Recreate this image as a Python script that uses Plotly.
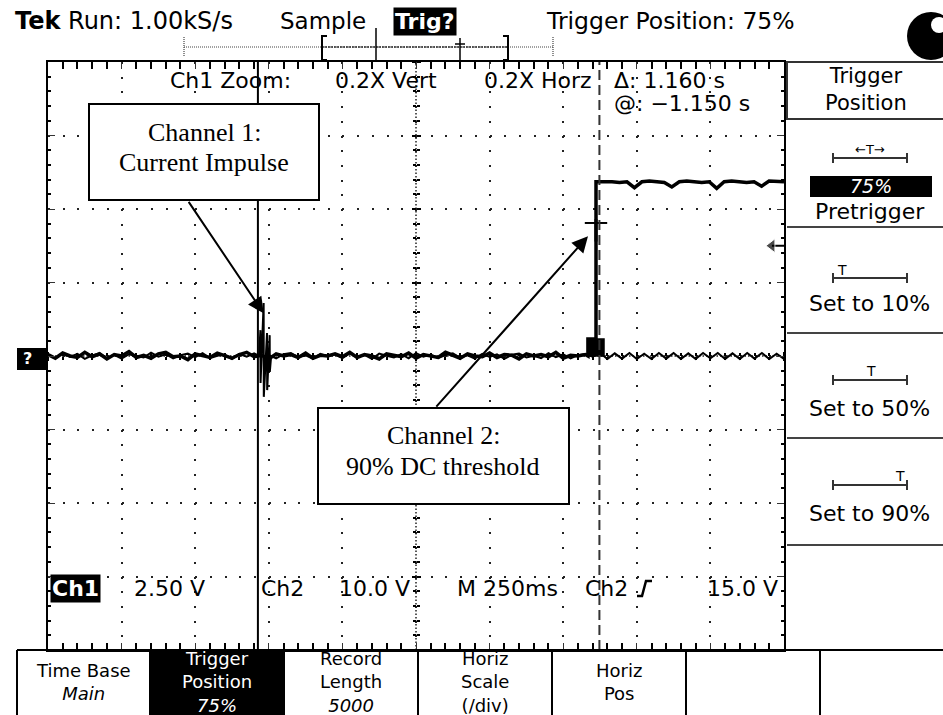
import numpy as np
import plotly.graph_objects as go

time_range = [-1.875, 0.625]      # s  (M 250ms/div, trigger position 75 %)
ch2_range = [-40.0, 40.0]         # V  (Ch2 10.0 V/div)
ch1_range = [-10.0, 10.0]         # V  (Ch1 2.50 V/div)
time_div = 0.25
ch2_div = 10.0
ch1_div = 2.5

cursor_t = [-1.162, -0.002]       # cursor 1 (solid), cursor 2 (dashed): delta 1.160 s
trigger_level = 15.0              # V on Ch2
trigger_point_v = 18.1            # V, trigger "+" mark on the Ch2 edge

# Ch1 (current impulse) baseline noise, one sample every 25 ms over the record
ch1_noise = [
    0.05, -0.08, 0.10, -0.03, 0.07, -0.10, 0.02, 0.09, -0.06, 0.04,
    -0.09, 0.06, 0.00, -0.05, 0.11, -0.02, 0.06, -0.08, 0.03, 0.08,
    -0.04, 0.10, -0.07, 0.01, 0.05, -0.10, 0.07, -0.02, 0.09, -0.06,
    0.03, -0.08, 0.06, 0.10, -0.04, 0.02, -0.09, 0.07, -0.01, 0.05,
    -0.07, 0.09, -0.03, 0.04, -0.10, 0.08, 0.01, -0.05, 0.06, -0.08,
    0.10, -0.02, 0.05, -0.07, 0.03, 0.09, -0.06, 0.02, -0.09, 0.07,
    -0.03, 0.06, -0.10, 0.04, 0.08, -0.05, 0.01, -0.07, 0.10, -0.04,
    0.06, -0.08, 0.03, 0.07, -0.02,
    0.10, -0.10, 0.09, -0.09, 0.10, -0.10, 0.08, -0.10, 0.10, -0.09,
    0.10, -0.10, 0.09, -0.10, 0.10, -0.08, 0.10, -0.10, 0.09, -0.10,
    0.10, -0.09, 0.10, -0.10, 0.08, -0.10,
]
# Ch1 impulse (ringing) samples
ch1_imp_t = [-1.158, -1.1535, -1.153, -1.1425, -1.142, -1.131, -1.1305, -1.122, -1.1215, -1.117]
ch1_imp_v = [0.0, 0.88, -0.92, 1.80, -1.39, 0.78, -1.16, 0.71, -0.54, 0.0]

# Ch2 (90 % DC threshold) low level before the edge, one sample every 25 ms
ch2_low = [
    0.2, -0.3, 0.4, 0.0, -0.2, 0.5, -0.1, 0.3, -0.4, 0.2,
    0.0, 0.6, -0.2, 0.1, -0.3, 0.3, 0.5, -0.1, 0.0, -0.5,
    0.3, 0.1, -0.2, 0.4, 0.0, -0.3, 0.2, 0.5, -0.1, 0.1,
    -0.4, 0.3, 0.0, 0.2, -0.2, 0.4, -0.3, 0.1, 0.0, 0.3,
    -0.1, 0.5, -0.2, 0.2, 0.0, -0.4, 0.3, 0.1, -0.1, 0.4,
    -0.3, 0.2, 0.0, -0.2, 0.5, 0.1, -0.3, 0.3, 0.0, -0.1,
    0.4, -0.2, 0.2, 0.1, -0.4, 0.3, 0.0, 0.2, -0.1, 0.5,
    -0.3, 0.1, 0.0, 0.2,
]
ch2_burst_t = [-0.041, 0.0136]    # short burst just before the edge
ch2_burst_v = 2.3
ch2_edge_t = -0.0136
ch2_high = [
    23.7, 23.8, 23.7, 23.6, 23.7, 22.9, 23.7, 23.8, 23.7, 23.6,
    23.0, 23.7, 23.8, 23.7, 23.6, 23.7, 22.8, 23.7, 23.8, 23.7,
    23.6, 23.7, 23.1, 23.8, 23.7, 23.7,
]

# ---------------- build the series ----------------
t1 = np.linspace(time_range[0], time_range[1], len(ch1_noise))
keep = (t1 < min(ch1_imp_t)) | (t1 > max(ch1_imp_t))
ch1_t = np.concatenate([t1[keep], np.array(ch1_imp_t)])
ch1_v = np.concatenate([np.array(ch1_noise)[keep], np.array(ch1_imp_v)])
order = np.argsort(ch1_t, kind="stable")
ch1_t, ch1_v = ch1_t[order], ch1_v[order]

t2_low = np.linspace(time_range[0], -0.05, len(ch2_low))
t2_high = np.linspace(-0.010, time_range[1], len(ch2_high))
ch2_t = list(t2_low) + [ch2_burst_t[0], ch2_burst_t[0], ch2_edge_t, ch2_edge_t] + list(t2_high)
ch2_v = list(ch2_low) + [0.0, ch2_burst_v, ch2_burst_v, ch2_high[0]] + list(ch2_high)

# ---------------- screen geometry (pixels) ----------------
W, H = 943, 715
L, R, T, B = 48, 784, 62, 650


def px(x):
    return (x - L) / (R - L)


def py(y):
    return (B - y) / (B - T)


SANS = "DejaVu Sans"
SERIF = "Liberation Serif"

fig = go.Figure()

fig.add_trace(go.Scatter(x=ch2_t, y=ch2_v, mode="lines", line=dict(color="black", width=3.5),
                         hoverinfo="skip", name="Ch2"))
fig.add_trace(go.Scatter(x=[ch2_burst_t[0], ch2_burst_t[1], ch2_burst_t[1], ch2_burst_t[0], ch2_burst_t[0]],
                         y=[0, 0, ch2_burst_v, ch2_burst_v, 0], mode="lines", fill="toself",
                         fillcolor="black", line=dict(color="black", width=1.5), hoverinfo="skip"))
fig.add_trace(go.Scatter(x=ch1_t, y=ch1_v, yaxis="y2", mode="lines", line=dict(color="black", width=2),
                         hoverinfo="skip", name="Ch1"))
# trigger point marker on the edge
fig.add_trace(go.Scatter(x=[ch2_edge_t], y=[trigger_point_v], mode="markers",
                         marker=dict(symbol="line-ew", size=16, line=dict(width=2, color="black")),
                         hoverinfo="skip"))
fig.add_trace(go.Scatter(x=[ch2_edge_t], y=[trigger_point_v - 1.0], mode="markers",
                         marker=dict(symbol="line-ns", size=16, line=dict(width=3, color="black")),
                         hoverinfo="skip"))
# trigger level arrow at right edge
fig.add_trace(go.Scatter(x=[0.584, 0.625], y=[trigger_level, trigger_level], mode="lines+markers",
                         line=dict(color="black", width=2),
                         marker=dict(symbol="triangle-left", size=[12, 0], color="black"),
                         hoverinfo="skip"))
# dummy traces to register the centre-ruler axes
fig.add_trace(go.Scatter(x=[None], y=[None], xaxis="x2", yaxis="y3", hoverinfo="skip"))
fig.add_trace(go.Scatter(x=[None], y=[None], xaxis="x3", yaxis="y4", hoverinfo="skip"))

grid_common = dict(showticklabels=False, zeroline=False, fixedrange=True)


def ruler(rng, t0, dt, side, overlay):
    d = dict(range=rng, overlaying=overlay, anchor="free", position=0.5, side=side,
             tick0=t0, dtick=dt, ticks="outside", ticklen=4, tickwidth=1.5,
             tickcolor="black", showgrid=False, showline=False,
             minor=dict(tick0=t0, dtick=dt / 5, ticks="outside", ticklen=3,
                        tickwidth=1.5, tickcolor="black"))
    d.update(grid_common)
    return d


fig.update_layout(
    width=W, height=H,
    margin=dict(l=L, r=W - R, t=T, b=H - B, pad=0),
    paper_bgcolor="white", plot_bgcolor="white", showlegend=False,
    xaxis=dict(range=time_range, tick0=time_range[0], dtick=time_div,
               showgrid=True, gridcolor="#222", gridwidth=2, griddash="2px,12.7px",
               showline=True, linecolor="black", linewidth=2, mirror="allticks",
               ticks="inside", ticklen=7, tickwidth=1, tickcolor="#333",
               minor=dict(tick0=time_range[0], dtick=time_div / 5, ticks="inside", ticklen=3,
                          tickwidth=2, tickcolor="black", showgrid=False),
               **grid_common),
    yaxis=dict(range=ch2_range, tick0=0, dtick=ch2_div,
               showgrid=True, gridcolor="#222", gridwidth=2, griddash="2px,12.72px",
               showline=True, linecolor="black", linewidth=2, mirror="allticks",
               ticks="inside", ticklen=7, tickwidth=1, tickcolor="#333",
               minor=dict(tick0=0, dtick=ch2_div / 5, ticks="inside", ticklen=3,
                          tickwidth=2, tickcolor="black", showgrid=False),
               **grid_common),
    yaxis2=dict(range=ch1_range, overlaying="y", visible=False, fixedrange=True),
    xaxis2=ruler(time_range, time_range[0], time_div, "bottom", "x"),
    xaxis3=ruler(time_range, time_range[0], time_div, "top", "x"),
    yaxis3=ruler(ch2_range, 0, ch2_div, "left", "y"),
    yaxis4=ruler(ch2_range, 0, ch2_div, "right", "y"),
)

shapes = []
ann = []


def line_px(x0, y0, x1, y1, width=2, color="black", dash=None, layer="above"):
    d = dict(type="line", xref="paper", yref="paper", x0=px(x0), y0=py(y0), x1=px(x1), y1=py(y1),
             line=dict(color=color, width=width), layer=layer)
    if dash:
        d["line"]["dash"] = dash
    shapes.append(d)


def rect_px(x0, y0, x1, y1, fill=None, lw=2, lc="black"):
    shapes.append(dict(type="rect", xref="paper", yref="paper", x0=px(x0), y0=py(y0), x1=px(x1), y1=py(y1),
                       fillcolor=fill if fill else "rgba(0,0,0,0)",
                       line=dict(color=lc, width=lw), layer="above"))


def path_px(pts, width=2, color="black"):
    p = "M " + " L ".join(f"{px(x):.5f},{py(y):.5f}" for x, y in pts)
    shapes.append(dict(type="path", xref="paper", yref="paper", path=p,
                       line=dict(color=color, width=width), layer="above"))


def txt(s, x, y, size=22, color="black", anchor="left", family=SANS, bg=None, pad=1):
    a = dict(text=s, xref="paper", yref="paper", x=px(x), y=py(y), xanchor=anchor, yanchor="middle",
             showarrow=False, font=dict(family=family, size=size, color=color), borderpad=pad)
    if bg:
        a["bgcolor"] = bg
    ann.append(a)


# centre rulers (dense dotted)
shapes.append(dict(type="line", xref="x", yref="paper", x0=-0.625, x1=-0.625, y0=0, y1=1,
                   line=dict(color="#222", width=1.5, dash="1.5px,2px"), layer="between"))
shapes.append(dict(type="line", xref="paper", yref="y", x0=0, x1=1, y0=0, y1=0,
                   line=dict(color="#222", width=1.5, dash="1.5px,2px"), layer="between"))

# cursors
shapes.append(dict(type="line", xref="x", yref="paper", x0=cursor_t[0], x1=cursor_t[0], y0=0, y1=1,
                   line=dict(color="black", width=2), layer="above"))
shapes.append(dict(type="line", xref="x", yref="paper", x0=cursor_t[1], x1=cursor_t[1], y0=0, y1=1,
                   line=dict(color="#333", width=2, dash="10px,5px"), layer="above"))

# ---- header ----
txt("<b>Tek</b> Run: 1.00kS/s", 13, 21, size=24)
txt("Sample", 278, 21, size=23)
txt("<b>Trig?</b>", 425, 21, color="white", anchor="center", bg="black")
txt("Trigger Position: 75%", 544, 21, size=23.5)
shapes.append(dict(type="circle", xref="paper", yref="paper", x0=px(907), x1=px(955), y0=py(12), y1=py(60),
                   fillcolor="black", line=dict(color="black", width=0), layer="above"))
shapes.append(dict(type="circle", xref="paper", yref="paper", x0=px(931), x1=px(947), y0=py(17), y1=py(33),
                   fillcolor="white", line=dict(color="white", width=0), layer="above"))
# record / trigger position bar
line_px(184, 47, 553, 47, width=1.2, color="#444", dash="1px,1px")
line_px(322, 47, 508, 47, width=1.5, color="#333", dash="2px,1px")
line_px(184, 37, 184, 57, width=1.2, color="#444", dash="1px,1px")
line_px(553, 37, 553, 57, width=1.2, color="#444", dash="1px,1px")
path_px([(327, 36), (322, 36), (322, 60), (327, 60)], width=2)
path_px([(503, 36), (508, 36), (508, 60), (503, 60)], width=2)
line_px(376, 28, 376, 62, width=1.5)
line_px(460, 38, 460, 60, width=1.5)
line_px(455, 44, 465, 44, width=1.5)

# ---- readouts inside graticule ----
txt("Ch1 Zoom:", 168, 81)
txt("0.2X Vert", 333, 81)
txt("0.2X Horz", 482, 81)
txt("\u0394: 1.160 s", 612, 81)
txt("@: \u22121.150 s", 612, 103)

txt("<b>Ch1</b>", 75, 588, anchor="center", color="white", bg="black")
txt("2.50 V", 132, 588)
txt("Ch2", 259, 588)
txt("10.0 V", 337, 588)
txt("M 250ms", 455, 588)
txt("Ch2", 583, 588)
path_px([(637, 596), (642, 596), (646, 581), (652, 581)], width=2.5)
txt("15.0 V", 705, 588)

# ground marker
rect_px(17, 348, 48, 370, fill="black", lw=0)
txt("<b>?</b>", 27, 359, size=16, color="white", anchor="center")

# ---- annotation boxes ----
rect_px(89, 104, 319, 200, fill="white", lw=2)
txt("Channel 1:", 204, 132, size=26, family=SERIF, anchor="center")
txt("Current Impulse", 204, 162, size=26, family=SERIF, anchor="center")
rect_px(318, 408, 569, 504, fill="white", lw=2)
txt("Channel 2:", 443, 436, size=26, family=SERIF, anchor="center")
txt("90% DC threshold", 443, 466, size=26, family=SERIF, anchor="center")

ann.append(dict(text="", xref="x", yref="y2", x=-1.1425, y=1.45, ax=186 - 262, ay=200 - 313,
                showarrow=True, arrowhead=2, arrowsize=1.6, arrowwidth=2, arrowcolor="black", standoff=0))
ann.append(dict(text="", xref="x", yref="y", x=-0.0408, y=16.3, ax=435 - 588, ay=408 - 236,
                showarrow=True, arrowhead=2, arrowsize=1.6, arrowwidth=2, arrowcolor="black", standoff=0))

# ---- right side menu ----
rect_px(787, 62, 950, 119, lw=2, lc="#333")
txt("Trigger<br>Position", 866, 89, anchor="center", size=21)
for yy in (227, 333, 438, 545):
    line_px(787, yy, 943, yy, width=2, color="#444")


def tbar(ybar):
    line_px(833, ybar, 907, ybar, width=2, color="#333")
    line_px(833, ybar - 5, 833, ybar + 5, width=2, color="#333")
    line_px(907, ybar - 5, 907, ybar + 5, width=2, color="#333")


tbar(158)
txt("\u2190T\u2192", 870, 149, size=13, anchor="center")
rect_px(810, 176, 932, 197, fill="black", lw=0)
txt("<i>75%</i>", 871, 186, size=19, color="white", anchor="center", pad=0)
txt("Pretrigger", 870, 211, anchor="center", size=22)
tbar(278)
txt("T", 842, 270, size=14, anchor="center")
txt("Set to 10%", 869, 303, anchor="center")
tbar(380)
txt("T", 871, 371, size=14, anchor="center")
txt("Set to 50%", 869, 408, anchor="center")
tbar(485)
txt("T", 900, 476, size=14, anchor="center")
txt("Set to 90%", 869, 513, anchor="center")

# ---- bottom menu ----
line_px(17, 650, 943, 650, width=2)
rect_px(150, 650, 284, 716, fill="black", lw=0)
for xx in (17, 150, 284, 418, 552, 686, 820):
    line_px(xx, 650, xx, 716, width=2)
txt("Time Base<br><i>Main</i>", 83, 682, anchor="center", size=18)
txt("Trigger<br>Position<br><i>75%</i>", 217, 682, anchor="center", size=18, color="white")
txt("Record<br>Length<br><i>5000</i>", 351, 682, anchor="center", size=18)
txt("Horiz<br>Scale<br>(/div)", 485, 682, anchor="center", size=18)
txt("Horiz<br>Pos", 619, 682, anchor="center", size=18)

fig.update_layout(shapes=shapes, annotations=ann)
fig.write_html("out.html", config={"displayModeBar": False},
               post_script="document.body.style.margin='0';document.body.style.overflow='hidden';")
